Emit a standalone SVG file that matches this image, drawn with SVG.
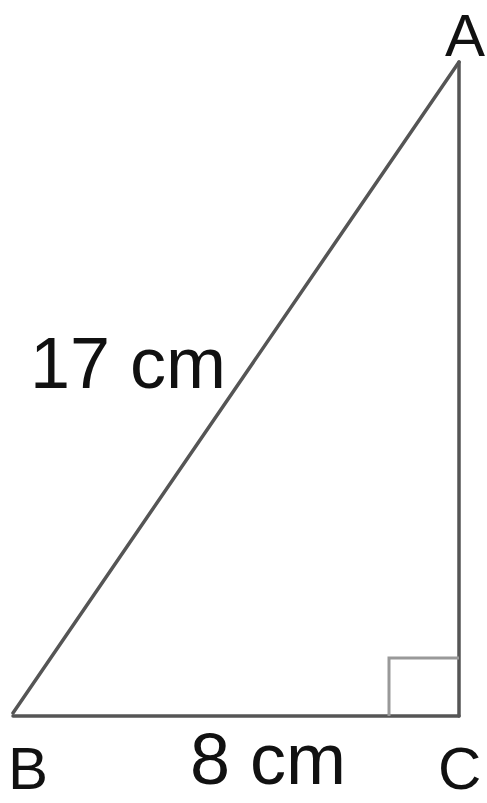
<svg xmlns="http://www.w3.org/2000/svg" width="487" height="803" viewBox="0 0 487 803">
<style>
.ln{stroke:#555;stroke-width:3.5;fill:none;stroke-linecap:round}
.sq{stroke:#999;stroke-width:3;fill:none}
.t{font-family:"Liberation Sans",Arial,sans-serif;font-size:72px;fill:#111}
.v{font-family:"Liberation Sans",Arial,sans-serif;font-size:60px;fill:#111}
</style>
<rect width="487" height="803" fill="#fff"/>
<g id="connectors">
<line class="ln" x1="13" y1="713" x2="459" y2="62"/>
<line class="ln" x1="459" y1="62" x2="459" y2="716"/>
<line class="ln" x1="13" y1="716" x2="459" y2="716"/>
<polyline class="sq" points="389,716 389,658 459,658"/>
</g>
<g id="A"><text class="v" x="445" y="56">A</text></g>
<g id="B"><text class="v" x="8" y="789">B</text></g>
<g id="C"><text class="v" x="438" y="789">C</text></g>
<g id="label17"><text class="t" x="30" y="388">17 cm</text></g>
<g id="label8"><text class="t" x="190" y="784">8 cm</text></g>
</svg>
